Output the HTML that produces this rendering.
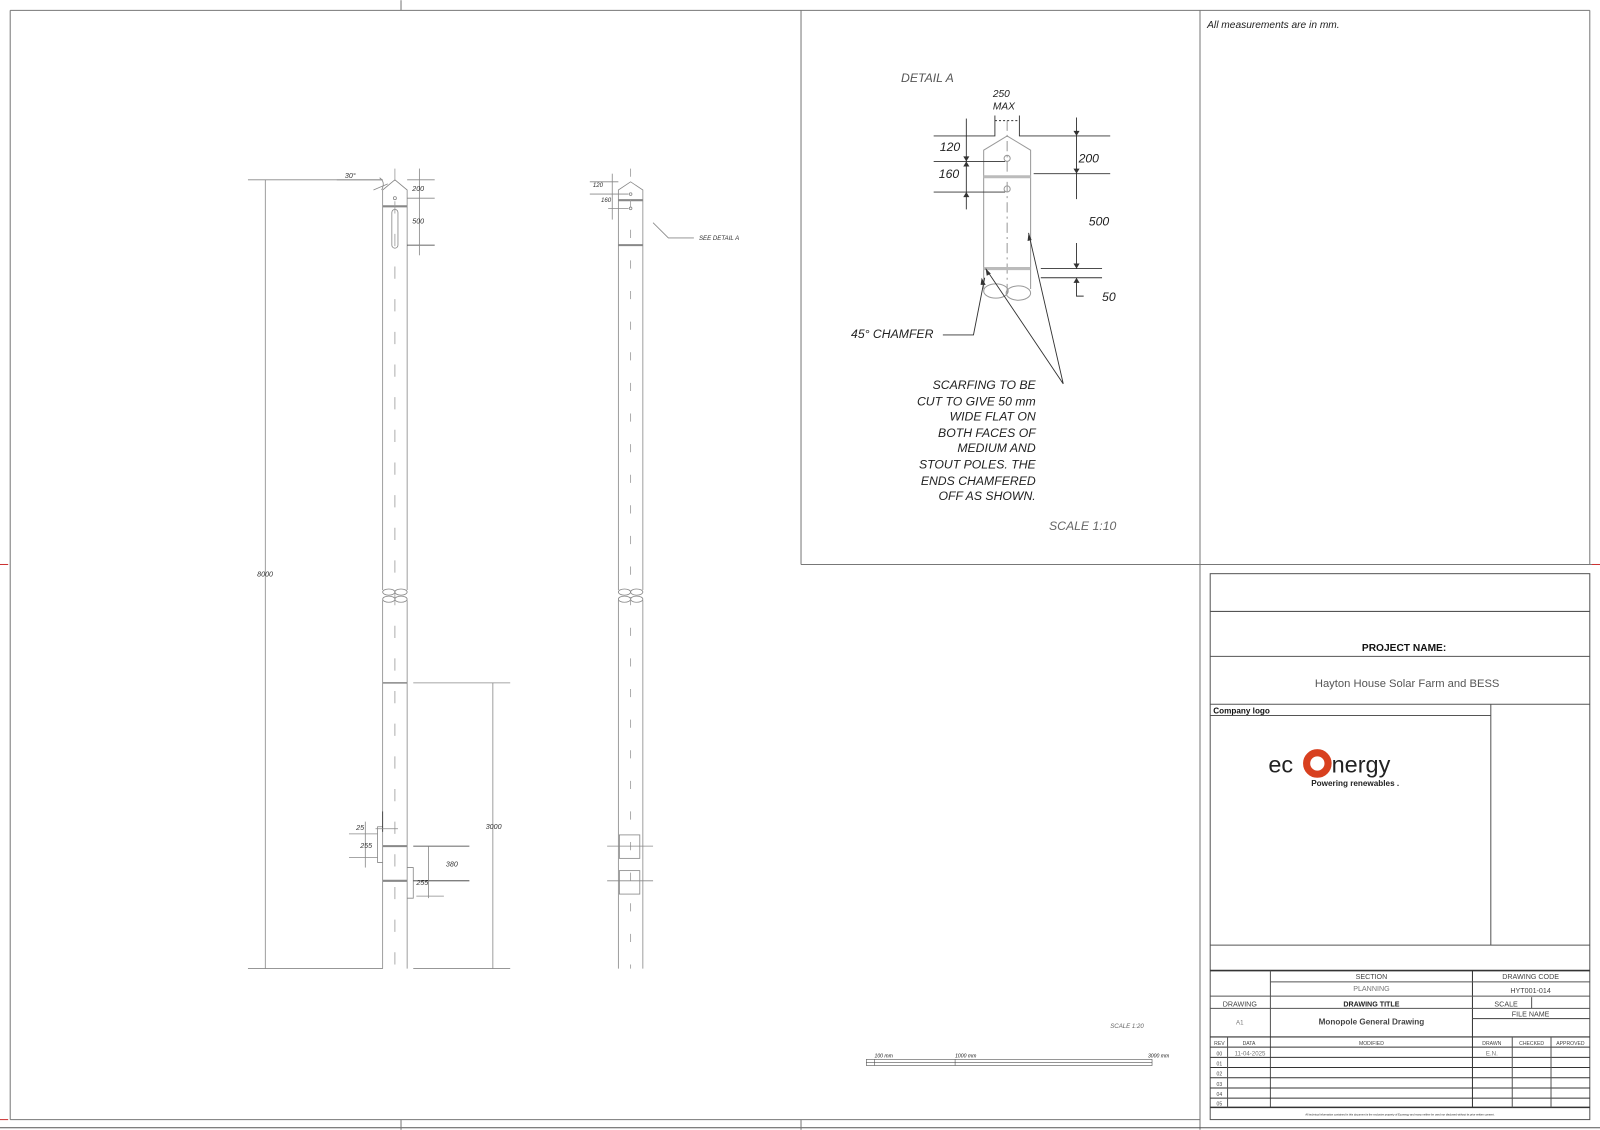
<!DOCTYPE html>
<html><head><meta charset="utf-8"><style>
html,body{margin:0;padding:0;background:#fff;}
svg{display:block;}
text{font-family:"Liberation Sans",sans-serif;}
</style></head><body>
<svg width="1600" height="1130" viewBox="0 0 1568 1107" xmlns="http://www.w3.org/2000/svg">
<g fill="none" stroke="#777" stroke-width="1">
<line x1="10" y1="10" x2="1558" y2="10"/>
<line x1="10" y1="10" x2="10" y2="1097"/>
<line x1="10" y1="1097" x2="1176" y2="1097"/>
<line x1="1176" y1="10" x2="1176" y2="1107"/>
<line x1="785" y1="10" x2="785" y2="553"/>
<line x1="785" y1="553" x2="1568" y2="553"/>
<line x1="1558" y1="10" x2="1558" y2="553"/>
<line x1="0" y1="1105" x2="1568" y2="1105" stroke="#555"/>
<line x1="393" y1="0" x2="393" y2="10"/>
<line x1="785" y1="1097" x2="785" y2="1107"/>
<line x1="393" y1="1097" x2="393" y2="1107"/>
</g>
<g stroke="#c33" stroke-width="1">
<line x1="0" y1="553" x2="8" y2="553"/><line x1="1560" y1="553" x2="1568" y2="553"/>
<line x1="0" y1="1097" x2="8" y2="1097"/>
</g>

<g fill="none" stroke="#888" stroke-width="0.8">
<path d="M375,578 V186 L387,176 L399,186 V578"/>
<path d="M375,588 V949 M399,588 V949"/>
<ellipse cx="381" cy="580" rx="6" ry="3"/><ellipse cx="393" cy="580" rx="6" ry="3"/>
<ellipse cx="381" cy="587" rx="6" ry="3"/><ellipse cx="393" cy="587" rx="6" ry="3"/>
<line x1="375" y1="202" x2="399" y2="202" stroke-width="2"/>
<line x1="375" y1="669" x2="399" y2="669" stroke-width="1.5"/>
<line x1="375" y1="829" x2="399" y2="829" stroke-width="2"/>
<line x1="375" y1="863" x2="399" y2="863" stroke-width="2"/>
<rect x="384" y="205" width="6" height="38" rx="3"/>
<circle cx="387" cy="194" r="1.5"/>
<line x1="387" y1="165" x2="387" y2="949" stroke-dasharray="12,20" stroke="#999"/>
<path d="M375,810 L370,810 L370,845 L375,845"/>
<path d="M399,850 L405,850 L405,880 L399,880"/>
<line x1="243" y1="176" x2="375" y2="176"/>
<line x1="243" y1="949" x2="375" y2="949"/>
<line x1="260" y1="176" x2="260" y2="949"/>
<line x1="405" y1="669" x2="500" y2="669"/>
<line x1="405" y1="949" x2="500" y2="949"/>
<line x1="483" y1="669" x2="483" y2="949"/>
<line x1="399" y1="176" x2="426" y2="176"/>
<line x1="399" y1="194" x2="426" y2="194"/>
<line x1="399" y1="240" x2="426" y2="240" stroke="#333"/>
<line x1="411" y1="165" x2="411" y2="250"/>
<line x1="330" y1="176" x2="375" y2="176"/>
<path d="M366,186 L380,180" /><path d="M372,174 q6,4 2,12"/>
<line x1="405" y1="829" x2="460" y2="829" stroke="#333"/>
<line x1="405" y1="863" x2="460" y2="863" stroke="#333"/>
<line x1="420" y1="829" x2="420" y2="880"/>
<line x1="342" y1="817" x2="370" y2="817"/>
<line x1="342" y1="840" x2="370" y2="840"/>
<line x1="358" y1="805" x2="358" y2="850"/>
<line x1="375" y1="795" x2="375" y2="815" stroke="#333"/>
<line x1="368" y1="812" x2="390" y2="812"/>
<line x1="408" y1="878" x2="435" y2="878"/>
</g>
<g font-size="7" font-style="italic" fill="#333">
<text x="338" y="174">30°</text>
<text x="404" y="187">200</text>
<text x="404" y="219">500</text>
<text x="252" y="565">8000</text>
<text x="476" y="812">3000</text>
<text x="349" y="813">25</text>
<text x="353" y="831">255</text>
<text x="437" y="849">380</text>
<text x="408" y="867">255</text>
</g>

<g fill="none" stroke="#888" stroke-width="0.8">
<path d="M606,578 V186 L618,178 L630,186 V578"/>
<path d="M606,588 V949 M630,588 V949"/>
<ellipse cx="612" cy="580" rx="6" ry="3"/><ellipse cx="624" cy="580" rx="6" ry="3"/>
<ellipse cx="612" cy="587" rx="6" ry="3"/><ellipse cx="624" cy="587" rx="6" ry="3"/>
<line x1="606" y1="196" x2="630" y2="196" stroke-width="2"/>
<line x1="606" y1="240" x2="630" y2="240" stroke-width="2"/>
<line x1="618" y1="165" x2="618" y2="949" stroke-dasharray="8,22" stroke="#999"/>
<circle cx="618" cy="190" r="1.3"/><circle cx="618" cy="204" r="1.3"/>
<line x1="578" y1="178" x2="606" y2="178"/><line x1="578" y1="190" x2="616" y2="190"/><line x1="596" y1="204" x2="616" y2="204"/>
<line x1="600" y1="170" x2="600" y2="215"/>
<path d="M640,218 L655,233 H680"/>
<rect x="607" y="818" width="20" height="23"/>
<rect x="607" y="853" width="20" height="23"/>
<line x1="595" y1="829" x2="640" y2="829"/><line x1="595" y1="863" x2="640" y2="863"/>
</g>
<g font-size="6" font-style="italic" fill="#333">
<text x="581" y="183">120</text><text x="589" y="198">160</text>
<text x="685" y="235">SEE DETAIL A</text>
</g>

<g fill="none" stroke="#999" stroke-width="1">
<path d="M964,283 V147 L987,133 L1010,147 V283"/>
<ellipse cx="976" cy="285" rx="12" ry="7"/><ellipse cx="998" cy="287" rx="12" ry="7"/>
<line x1="987" y1="118" x2="987" y2="290" stroke-dasharray="10,4,2,4"/>
<circle cx="987" cy="155" r="3"/><circle cx="987" cy="185" r="3"/>
<line x1="964" y1="173" x2="1010" y2="173" stroke-width="3" stroke="#bbb"/>
<line x1="964" y1="263" x2="1010" y2="263" stroke="#bbb" stroke-width="3"/>
</g>
<g fill="none" stroke="#333" stroke-width="0.9">
<path d="M915,133 H975 V113 M999,113 V133 H1088"/>
<line x1="975" y1="118" x2="999" y2="118" stroke-dasharray="2,2"/>
<line x1="915" y1="158" x2="985" y2="158"/>
<line x1="915" y1="188" x2="985" y2="188"/>
<line x1="947" y1="116" x2="947" y2="205"/>
<line x1="1055" y1="115" x2="1055" y2="195"/>
<line x1="1013" y1="170" x2="1088" y2="170"/>
<line x1="1020" y1="263" x2="1080" y2="263"/><line x1="1020" y1="272" x2="1080" y2="272"/>
<path d="M1055,238 V263 M1055,272 V290 H1062"/>
<path d="M924,328 H954 L965,272"/>
<path d="M1042,376 L966,263 M1042,376 L1008,228"/>
</g>
<g fill="#333" stroke="none">
<path d="M944,153 L947,158 L950,153Z M944,163 L947,158 L950,163Z M944,193 L947,188 L950,193Z M1052,128 L1055,133 L1058,128Z M1052,165 L1055,170 L1058,165Z M1052,258 L1055,263 L1058,258Z M1052,277 L1055,272 L1058,277Z M966,263 L967,270 L971,268Z M1008,228 L1007,236 L1011,235Z M962,272 L961,279 L966,279Z"/>
</g>
<g font-style="italic" fill="#222">
<text x="883" y="80" font-size="12" fill="#555">DETAIL A</text>
<text x="973" y="95" font-size="10">250</text>
<text x="973" y="107" font-size="10">MAX</text>
<text x="921" y="148" font-size="12">120</text>
<text x="920" y="174" font-size="12">160</text>
<text x="1057" y="159" font-size="12">200</text>
<text x="1067" y="221" font-size="12">500</text>
<text x="1080" y="295" font-size="12">50</text>
<text x="834" y="331" font-size="12">45° CHAMFER</text>
<g font-size="12" text-anchor="end">
<text x="1015" y="381">SCARFING TO BE</text>
<text x="1015" y="397">CUT TO GIVE 50 mm</text>
<text x="1015" y="412">WIDE FLAT ON</text>
<text x="1015" y="428">BOTH FACES OF</text>
<text x="1015" y="443">MEDIUM AND</text>
<text x="1015" y="459">STOUT POLES. THE</text>
<text x="1015" y="475">ENDS CHAMFERED</text>
<text x="1015" y="490">OFF AS SHOWN.</text>
</g>
<text x="1028" y="519" font-size="12" fill="#666">SCALE 1:10</text>
<text x="1183" y="27" font-size="10">All measurements are in mm.</text>
<text x="1088" y="1007" font-size="6" fill="#666">SCALE 1:20</text>
<text x="857" y="1036" font-size="5">100 mm</text>
<text x="936" y="1036" font-size="5">1000 mm</text>
<text x="1125" y="1036" font-size="5">3000 mm</text>
</g>
<g fill="none" stroke="#555" stroke-width="0.6">
<rect x="849" y="1038" width="280" height="6"/><line x1="849" y1="1041" x2="1129" y2="1041"/>
<line x1="857" y1="1038" x2="857" y2="1044"/><line x1="936" y1="1038" x2="936" y2="1044"/>
</g>

<g fill="none" stroke="#555" stroke-width="1">
<rect x="1186" y="562" width="372" height="535"/>
<line x1="1186" y1="599" x2="1558" y2="599"/>
<line x1="1186" y1="643" x2="1558" y2="643"/>
<line x1="1186" y1="690" x2="1558" y2="690"/>
<line x1="1186" y1="701" x2="1461" y2="701"/>
<line x1="1461" y1="690" x2="1461" y2="926"/>
<line x1="1186" y1="926" x2="1558" y2="926"/>
<line x1="1186" y1="951" x2="1558" y2="951" stroke-width="1.6" stroke="#333"/>
<line x1="1245" y1="951" x2="1245" y2="1085"/>
<line x1="1443" y1="951" x2="1443" y2="1085" stroke="#333"/>
<line x1="1245" y1="962" x2="1443" y2="962"/>
<line x1="1443" y1="962" x2="1558" y2="962"/>
<line x1="1186" y1="976" x2="1558" y2="976"/>
<line x1="1186" y1="988" x2="1443" y2="988"/>
<line x1="1443" y1="988" x2="1558" y2="988"/>
<line x1="1501" y1="977" x2="1501" y2="988"/>
<line x1="1443" y1="998" x2="1558" y2="998"/>
<line x1="1186" y1="1016" x2="1558" y2="1016" stroke="#333"/>
<line x1="1186" y1="1026" x2="1558" y2="1026" stroke="#333"/>
<line x1="1186" y1="1036" x2="1558" y2="1036" stroke="#333"/>
<line x1="1186" y1="1046" x2="1558" y2="1046" stroke="#333"/>
<line x1="1186" y1="1056" x2="1558" y2="1056" stroke="#333"/>
<line x1="1186" y1="1066" x2="1558" y2="1066" stroke="#333"/>
<line x1="1186" y1="1076" x2="1558" y2="1076" stroke="#333"/>
<line x1="1186" y1="1085" x2="1558" y2="1085" stroke="#333" stroke-width="1.5"/>
<line x1="1203" y1="1016" x2="1203" y2="1085"/>
<line x1="1482" y1="1016" x2="1482" y2="1085"/>
<line x1="1520" y1="1016" x2="1520" y2="1085"/>
</g>
<g font-family="'DejaVu Sans',sans-serif" fill="#444" text-anchor="middle">
<text x="1376" y="638" font-size="10" font-weight="bold" fill="#111">PROJECT NAME:</text>
<text x="1379" y="673" font-size="11" fill="#555">Hayton House Solar Farm and BESS</text>
<text x="1189" y="699" font-size="8" font-weight="bold" fill="#111" text-anchor="start">Company logo</text>
<text x="1344" y="959" font-size="7">SECTION</text>
<text x="1344" y="971" font-size="7" fill="#777">PLANNING</text>
<text x="1500" y="959" font-size="7">DRAWING CODE</text>
<text x="1500" y="973" font-size="7">HYT001-014</text>
<text x="1215" y="986" font-size="7">DRAWING</text>
<text x="1344" y="986" font-size="7" font-weight="bold" fill="#222">DRAWING TITLE</text>
<text x="1476" y="986" font-size="7">SCALE</text>
<text x="1500" y="996" font-size="7">FILE NAME</text>
<text x="1215" y="1004" font-size="6" fill="#777">A1</text>
<text x="1344" y="1004" font-size="8" font-weight="bold">Monopole General Drawing</text>
<g font-size="5">
<text x="1195" y="1024">REV</text><text x="1224" y="1024">DATA</text><text x="1344" y="1024">MODIFIED</text>
<text x="1462" y="1024">DRAWN</text><text x="1501" y="1024">CHECKED</text><text x="1539" y="1024">APPROVED</text>
<text x="1195" y="1034">00</text><text x="1195" y="1044">01</text><text x="1195" y="1054">02</text>
<text x="1195" y="1064">03</text><text x="1195" y="1074">04</text><text x="1195" y="1083">05</text>
</g>
<text x="1225" y="1034" font-size="6" fill="#777">11-04-2025</text>
<text x="1462" y="1034" font-size="6" fill="#777">E.N.</text>
<text x="1372" y="1093" font-size="2.6" fill="#222">All technical information contained in this document is the exclusive property of Econergy and many neither be used nor disclosed without its prior written consent.</text>
</g>
<g>
<text x="1243" y="757" font-family="'DejaVu Sans',sans-serif" font-size="23" fill="#222">ec</text>
<circle cx="1291" cy="748" r="10.5" fill="none" stroke="#d8401f" stroke-width="7"/>
<text x="1305" y="757" font-family="'DejaVu Sans',sans-serif" font-size="23" fill="#222">nergy</text>
<text x="1285" y="770" font-family="'DejaVu Sans',sans-serif" font-size="8" font-weight="bold" fill="#222">Powering renewables .</text>
</g>
</svg>
</body></html>
